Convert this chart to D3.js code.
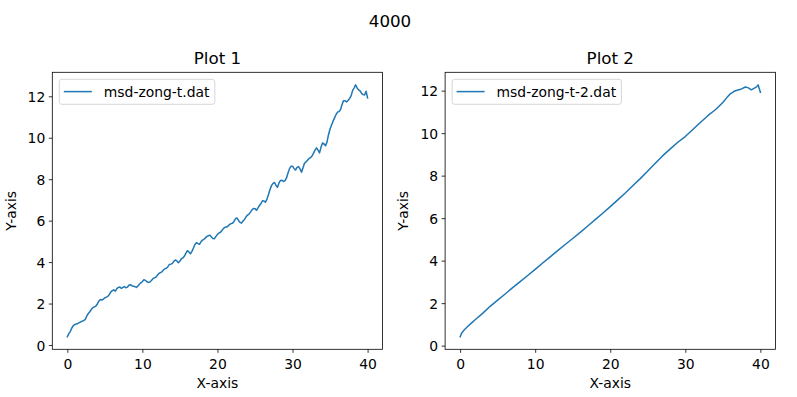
<!DOCTYPE html>
<html>
<head>
<meta charset="utf-8">
<script src="https://cdn.jsdelivr.net/npm/d3@7"></script>
<style>
  html, body { margin: 0; padding: 0; background: #fff; }
  svg { display: block; font-family: "DejaVu Sans", sans-serif; }
</style>
</head>
<body>
<svg id="chart" width="797" height="397"></svg>
<script>
// ---- data ----
const figureTitle = "4000";
const plotTitles = ["Plot 1", "Plot 2"];
const seriesNames = ["msd-zong-t.dat", "msd-zong-t-2.dat"];
const xTicks = [0, 10, 20, 30, 40];
const yTicks = [0, 2, 4, 6, 8, 10, 12];

const x1 = [0.0,0.2,0.4,0.6,0.8,1.0,1.2,1.4,1.6,1.8,2.0,2.2,2.4,2.6,2.8,3.0,3.2,3.4,3.6,3.8,
  4.0,4.2,4.4,4.6,4.8,5.0,5.2,5.4,5.6,5.8,6.0,6.2,6.4,6.6,6.8,7.0,7.2,7.4,7.6,7.8,
  8.0,8.2,8.4,8.6,8.8,9.0,9.2,9.4,9.6,9.8,10.0,10.2,10.4,10.6,10.8,11.0,11.2,11.4,11.6,11.8,
  12.0,12.2,12.4,12.6,12.8,13.0,13.2,13.4,13.6,13.8,14.0,14.2,14.4,14.6,14.8,15.0,15.2,15.4,15.6,15.8,
  16.0,16.2,16.4,16.6,16.8,17.0,17.2,17.4,17.6,17.8,18.0,18.2,18.4,18.6,18.8,19.0,19.2,19.4,19.6,19.8,
  20.0,20.2,20.4,20.6,20.8,21.0,21.2,21.4,21.6,21.8,22.0,22.2,22.4,22.6,22.8,23.0,23.2,23.4,23.6,23.8,
  24.0,24.2,24.4,24.6,24.8,25.0,25.2,25.4,25.6,25.8,26.0,26.2,26.4,26.6,26.8,27.0,27.2,27.4,27.6,27.8,
  28.0,28.2,28.4,28.6,28.8,29.0,29.2,29.4,29.6,29.8,30.0,30.2,30.4,30.6,30.8,31.0,31.2,31.4,31.6,31.8,
  32.0,32.2,32.4,32.6,32.8,33.0,33.2,33.4,33.6,33.8,34.0,34.2,34.4,34.6,34.8,35.0,35.2,35.4,35.6,35.8,
  36.0,36.2,36.4,36.6,36.8,37.0,37.2,37.4,37.6,37.8,38.0,38.2,38.4,38.6,38.8,39.0,39.2,39.4,39.6,39.8,40.0];
const y1 = [0.40,0.55,0.66,0.82,0.94,0.99,1.01,1.04,1.08,1.12,1.15,1.18,1.24,1.40,1.52,1.60,1.72,1.80,1.84,1.88,
  1.98,2.12,2.19,2.17,2.21,2.28,2.31,2.35,2.44,2.56,2.62,2.66,2.60,2.72,2.78,2.80,2.73,2.78,2.82,2.76,
  2.79,2.88,2.91,2.86,2.83,2.82,2.78,2.84,2.93,3.00,3.06,3.15,3.12,3.05,3.02,3.04,3.11,3.20,3.24,3.27,
  3.37,3.45,3.49,3.53,3.62,3.68,3.70,3.78,3.89,3.90,3.94,4.05,4.10,4.06,3.97,4.05,4.16,4.20,4.29,4.43,
  4.55,4.49,4.40,4.52,4.68,4.85,4.94,4.89,4.86,4.98,5.06,5.10,5.17,5.24,5.27,5.30,5.21,5.14,5.13,5.24,
  5.33,5.40,5.44,5.52,5.63,5.68,5.69,5.73,5.81,5.86,5.87,5.96,6.09,6.13,6.01,5.92,5.88,5.98,6.06,6.18,
  6.27,6.32,6.41,6.52,6.59,6.58,6.50,6.62,6.73,6.83,6.96,6.95,6.89,7.04,7.26,7.50,7.69,7.80,7.84,7.70,
  7.61,7.82,7.94,7.95,7.89,7.93,8.06,8.30,8.51,8.62,8.63,8.52,8.44,8.57,8.61,8.50,8.34,8.55,8.78,8.83,
  8.91,9.00,9.04,9.12,9.26,9.40,9.51,9.40,9.27,9.55,9.75,9.70,9.61,9.80,10.16,10.42,10.61,10.80,10.96,11.12,
  11.24,11.26,11.36,11.60,11.79,11.78,11.73,11.80,11.89,12.02,12.27,12.40,12.55,12.40,12.31,12.26,12.14,12.08,12.06,12.24,11.92];

const x2 = [0,0.2,0.5,1,1.5,2,3,4,5,6,7,8,9,10,11,12,13,14,15,16,17,18,19,20,21,22,23,24,25,26,27,28,29,30,
  31,32,33,34,35,35.5,36,36.5,37,37.5,38,38.4,38.8,39.2,39.5,39.7,40];
const y2 = [0.42,0.58,0.72,0.90,1.06,1.22,1.52,1.85,2.14,2.43,2.73,3.01,3.30,3.59,3.89,4.18,4.47,4.76,5.04,5.33,
  5.63,5.93,6.23,6.54,6.86,7.18,7.52,7.86,8.22,8.58,8.94,9.26,9.57,9.84,
  10.17,10.50,10.82,11.10,11.44,11.66,11.85,11.97,12.03,12.08,12.17,12.13,12.04,12.12,12.18,12.27,11.92];

// ---- drawing ----
const svg = d3.select("#chart");
const COLOR = "#1f77b4";
const FS = 13.9;

svg.append("text").attr("x", 390).attr("y", 26.5).attr("text-anchor", "middle")
  .attr("font-size", 16.7).attr("fill", "#000").text(figureTitle);

const panels = [
  { left: 52.3, right: 382.6, top: 72.3, bottom: 349.3, xs: x1, ys: y1, title: plotTitles[0], name: seriesNames[0], legendW: 155.5 },
  { left: 445.1, right: 775.4, top: 72.3, bottom: 349.3, xs: x2, ys: y2, title: plotTitles[1], name: seriesNames[1], legendW: 169.3 }
];

function padded(ext) {
  const m = (ext[1] - ext[0]) * 0.05;
  return [ext[0] - m, ext[1] + m];
}

panels.forEach(p => {
  const g = svg.append("g");
  const x = d3.scaleLinear().domain(padded(d3.extent(p.xs))).range([p.left, p.right]);
  const y = d3.scaleLinear().domain(padded(d3.extent(p.ys))).range([p.bottom, p.top]);

  // line
  const pts = p.xs.map((v, i) => [v, p.ys[i]]);
  const line = d3.line().x(d => x(d[0])).y(d => y(d[1]));
  g.append("path").datum(pts).attr("d", line).attr("fill", "none")
    .attr("stroke", COLOR).attr("stroke-width", 1.5)
    .attr("stroke-linejoin", "round").attr("stroke-linecap", "square");

  // x axis
  const xa = g.append("g").attr("transform", `translate(0,${p.bottom})`)
    .call(d3.axisBottom(x).tickValues(xTicks).tickSize(3.5).tickPadding(3.5).tickFormat(d3.format("d")));
  xa.select(".domain").remove();
  xa.selectAll("line").attr("stroke", "#000").attr("stroke-width", 0.8);
  xa.selectAll("text").attr("font-size", FS).attr("font-family", "DejaVu Sans").attr("fill", "#000")
    .attr("dy", null).attr("y", 19.7);

  // y axis
  const ya = g.append("g").attr("transform", `translate(${p.left},0)`)
    .call(d3.axisLeft(y).tickValues(yTicks).tickSize(3.5).tickPadding(3.5).tickFormat(d3.format("d")));
  ya.select(".domain").remove();
  ya.selectAll("line").attr("stroke", "#000").attr("stroke-width", 0.8);
  ya.selectAll("text").attr("font-size", FS).attr("font-family", "DejaVu Sans").attr("fill", "#000")
    .attr("dy", "0.36em");

  // frame
  g.append("rect").attr("x", p.left).attr("y", p.top)
    .attr("width", p.right - p.left).attr("height", p.bottom - p.top)
    .attr("fill", "none").attr("stroke", "#000").attr("stroke-width", 0.8);

  // title
  g.append("text").attr("x", (p.left + p.right) / 2).attr("y", 64.3)
    .attr("text-anchor", "middle").attr("font-size", 16.7).attr("fill", "#000").text(p.title);

  // axis labels
  g.append("text").attr("x", (p.left + p.right) / 2).attr("y", 388)
    .attr("text-anchor", "middle").attr("font-size", FS).attr("fill", "#000").text("X-axis");
  const yl = p.left - 36.7, yc = (p.top + p.bottom) / 2;
  g.append("text").attr("transform", `translate(${yl},${yc}) rotate(-90)`)
    .attr("text-anchor", "middle").attr("font-size", FS).attr("fill", "#000").text("Y-axis");

  // legend
  const lx = p.left + 7, ly = p.top + 7;
  g.append("rect").attr("x", lx).attr("y", ly).attr("width", p.legendW).attr("height", 25)
    .attr("rx", 2.5).attr("fill", "#fff").attr("fill-opacity", 0.8)
    .attr("stroke", "#cccccc").attr("stroke-width", 0.8);
  g.append("line").attr("x1", lx + 4.5).attr("x2", lx + 32.5).attr("y1", ly + 12.3).attr("y2", ly + 12.3)
    .attr("stroke", COLOR).attr("stroke-width", 1.5);
  g.append("text").attr("x", lx + 44.5).attr("y", ly + 17.3)
    .attr("font-size", FS).attr("fill", "#000").text(p.name);
});
</script>
</body>
</html>
